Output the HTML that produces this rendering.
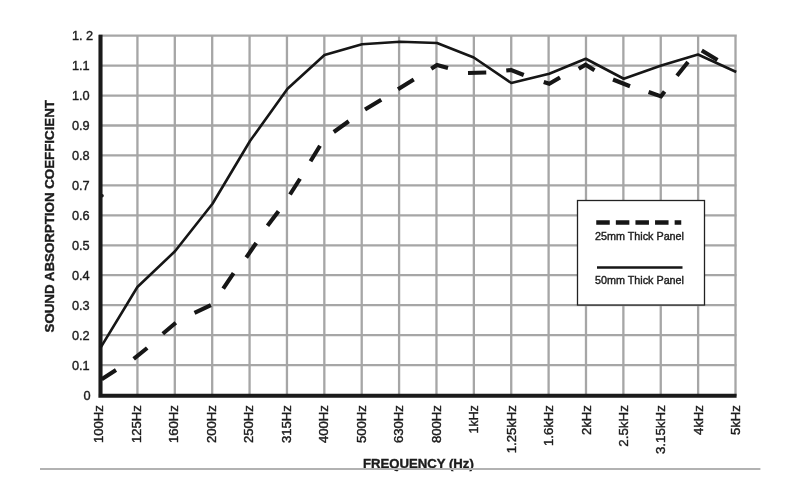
<!DOCTYPE html>
<html><head><meta charset="utf-8"><title>Sound Absorption Coefficient</title>
<style>
html,body{margin:0;padding:0;background:#fff;}
body{width:801px;height:500px;overflow:hidden;}
svg{display:block;}
text{font-family:"Liberation Sans",Arial,sans-serif;fill:#1c1c1c;stroke:#1c1c1c;stroke-width:0.38px;}
.yl{font-size:12.4px;}
.xl{font-size:12.4px;}
.b{font-weight:bold;}
.lg{font-size:10.2px;}
</style></head><body>
<svg width="801" height="500" viewBox="0 0 801 500">
<rect width="801" height="500" fill="#fff"/>
<path d="M137.43 34.4V396 M174.81 34.4V396 M212.19 34.4V396 M249.57 34.4V396 M286.95 34.4V396 M324.33 34.4V396 M361.71 34.4V396 M399.09 34.4V396 M436.47 34.4V396 M473.85 34.4V396 M511.23 34.4V396 M548.61 34.4V396 M585.99 34.4V396 M623.37 34.4V396 M660.75 34.4V396 M698.13 34.4V396 M735.51 34.4V396 M99 35.70H736.8 M99 65.64H736.8 M99 95.58H736.8 M99 125.52H736.8 M99 155.46H736.8 M99 185.40H736.8 M99 215.34H736.8 M99 245.28H736.8 M99 275.22H736.8 M99 305.16H736.8 M99 335.10H736.8 M99 365.04H736.8" stroke="#a6a6a6" stroke-width="2.3" fill="none"/>
<path d="M100.5 34.8V397.7M98.4 395.75H736.6" stroke="#1a1a1a" stroke-width="4.1" fill="none"/>
<polyline points="100.6,347.6 137.4,287 175,251.25 212.5,203.75 250,141 287.5,88.75 324.5,55 362,44.25 400,41.75 437,43 473.75,57.5 511.25,83 549.25,73.75 585.75,58.75 623.75,78.75 661.25,65.5 698,54.5 736.25,72" stroke="#161616" stroke-width="2.6" fill="none" stroke-linejoin="round"/>
<path d="M101.7 379.2 L116 370.1 M133.7 358.9 L147.2 348 M162.8 333.7 L175.8 322.8 M194.5 312.9 L210.9 305.1 M223.2 288.7 L233.6 273.1 M246.25 257.5 L256.25 243 M267.5 225.75 L278.5 211.25 M290 194.5 L300 178.75 M310.5 161.25 L320 145.75 M333.75 132 L348.75 121.25 M365 109.4 L381.25 99.7 M398 89.25 L413.75 79.5 M431.25 68.75 L437 65 L448 68 M468 73 L486.25 72.5 M506.25 70.5 L511.25 70 L523.75 75 M543.75 82 L549.25 83.75 L560 77.5 M578.75 68.75 L585.6 64.7 L594.5 70.3 M613 79.5 L630 86.25 M648.6 92 L661 96.4 L664.6 91.6 M677 75.75 L688 62 M701.75 50.5 L717.5 60" stroke="#161616" stroke-width="4.1" fill="none" stroke-linejoin="miter"/>
<circle cx="102.1" cy="195.8" r="1.7" fill="#1a1a1a"/>
<rect x="577.5" y="200.5" width="127" height="104.5" fill="#fff" stroke="#222" stroke-width="1.3"/>
<path d="M596.25 222.5H681.25" stroke="#161616" stroke-width="4.6" stroke-dasharray="13.5 6.1" fill="none"/>
<path d="M597 267.5H682.5" stroke="#161616" stroke-width="2.4" fill="none"/>
<text class="lg" x="595" y="239.5" textLength="89" lengthAdjust="spacingAndGlyphs">25mm Thick Panel</text>
<text class="lg" x="595" y="283.7" textLength="89" lengthAdjust="spacingAndGlyphs">50mm Thick Panel</text>
<text class="yl" transform="translate(71.9 40.0) scale(1.03 1)">1. 2</text>
<text class="yl" transform="translate(71.9 70.0) scale(1.03 1)">1.1</text>
<text class="yl" transform="translate(71.9 100.0) scale(1.03 1)">1.0</text>
<text class="yl" transform="translate(71.9 130.0) scale(1.03 1)">0.9</text>
<text class="yl" transform="translate(71.9 160.0) scale(1.03 1)">0.8</text>
<text class="yl" transform="translate(71.9 190.0) scale(1.03 1)">0.7</text>
<text class="yl" transform="translate(71.9 220.0) scale(1.03 1)">0.6</text>
<text class="yl" transform="translate(71.9 250.0) scale(1.03 1)">0.5</text>
<text class="yl" transform="translate(71.9 280.0) scale(1.03 1)">0.4</text>
<text class="yl" transform="translate(71.9 310.0) scale(1.03 1)">0.3</text>
<text class="yl" transform="translate(71.9 340.0) scale(1.03 1)">0.2</text>
<text class="yl" transform="translate(71.9 370.0) scale(1.03 1)">0.1</text>
<text class="yl" transform="translate(83.4 400.0) scale(1.03 1)">0</text>
<text class="xl" transform="translate(103.4 405.2) rotate(-90) scale(1.058 1)" text-anchor="end">100Hz</text>
<text class="xl" transform="translate(140.9 405.2) rotate(-90) scale(1.058 1)" text-anchor="end">125Hz</text>
<text class="xl" transform="translate(178.3 405.2) rotate(-90) scale(1.058 1)" text-anchor="end">160Hz</text>
<text class="xl" transform="translate(215.8 405.2) rotate(-90) scale(1.058 1)" text-anchor="end">200Hz</text>
<text class="xl" transform="translate(253.3 405.2) rotate(-90) scale(1.058 1)" text-anchor="end">250Hz</text>
<text class="xl" transform="translate(290.8 405.2) rotate(-90) scale(1.058 1)" text-anchor="end">315Hz</text>
<text class="xl" transform="translate(328.2 405.2) rotate(-90) scale(1.058 1)" text-anchor="end">400Hz</text>
<text class="xl" transform="translate(365.7 405.2) rotate(-90) scale(1.058 1)" text-anchor="end">500Hz</text>
<text class="xl" transform="translate(403.2 405.2) rotate(-90) scale(1.058 1)" text-anchor="end">630Hz</text>
<text class="xl" transform="translate(440.6 405.2) rotate(-90) scale(1.058 1)" text-anchor="end">800Hz</text>
<text class="xl" transform="translate(478.1 405.2) rotate(-90) scale(1.0 1)" text-anchor="end">1kHz</text>
<text class="xl" transform="translate(515.6 405.2) rotate(-90) scale(1.058 1)" text-anchor="end">1.25kHz</text>
<text class="xl" transform="translate(553.0 405.2) rotate(-90) scale(1.058 1)" text-anchor="end">1.6kHz</text>
<text class="xl" transform="translate(590.5 405.2) rotate(-90) scale(1.058 1)" text-anchor="end">2kHz</text>
<text class="xl" transform="translate(628.0 405.2) rotate(-90) scale(1.075 1)" text-anchor="end">2.5kHz</text>
<text class="xl" transform="translate(665.4 405.2) rotate(-90) scale(1.075 1)" text-anchor="end">3.15kHz</text>
<text class="xl" transform="translate(702.9 405.2) rotate(-90) scale(1.058 1)" text-anchor="end">4kHz</text>
<text class="xl" transform="translate(740.4 405.2) rotate(-90) scale(1.058 1)" text-anchor="end">5kHz</text>
<text class="b" font-size="12.2" transform="translate(54.3 332.5) rotate(-90)" textLength="232.5" lengthAdjust="spacingAndGlyphs">SOUND ABSORPTION COEFFICIENT</text>
<text class="b" font-size="13.3" x="363" y="468" textLength="110.8" lengthAdjust="spacingAndGlyphs">FREQUENCY (Hz)</text>
<path d="M40 469H760.4" stroke="#b2b2b2" stroke-width="2" fill="none"/>
</svg></body></html>
